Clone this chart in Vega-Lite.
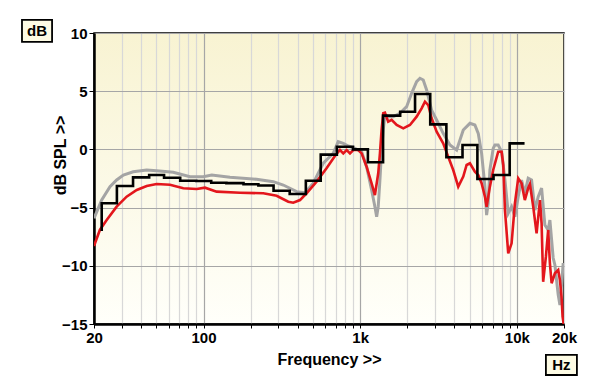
{
  "$schema": "https://vega.github.io/schema/vega-lite/v6.json",
  "width": 470,
  "height": 291,
  "autosize": {"type": "none"},
  "padding": {"left": 94, "top": 33, "right": 36, "bottom": 63},
  "background": "#ffffff",
  "config": {
    "font": "Liberation Sans",
    "view": {
      "stroke": "#000000",
      "strokeWidth": 1.5,
      "fill": {"gradient": "linear", "x1": 0, "y1": 0, "x2": 0, "y2": 1,
        "stops": [{"offset": 0, "color": "#f8f3d2"}, {"offset": 1, "color": "#fffffa"}]}
    }
  },
  "datasets": {
    "grey": [
      {"f": 20, "db": -5.92}, {"f": 22.4, "db": -4.35}, {"f": 25.3, "db": -3.2}, {"f": 27.9, "db": -2.63},
      {"f": 30.8, "db": -2.2}, {"f": 35.6, "db": -1.92}, {"f": 43.4, "db": -1.77}, {"f": 50.2, "db": -1.83},
      {"f": 64.1, "db": -1.97}, {"f": 82, "db": -2.35}, {"f": 99.7, "db": -2.35}, {"f": 112.8, "db": -2.2},
      {"f": 147.6, "db": -2.4}, {"f": 218, "db": -2.57}, {"f": 279, "db": -2.77}, {"f": 323, "db": -3.06},
      {"f": 393, "db": -3.63}, {"f": 444, "db": -3.72}, {"f": 502, "db": -2.91}, {"f": 581, "db": -1.19},
      {"f": 673, "db": -0.34}, {"f": 724, "db": 0.66}, {"f": 780, "db": 0.52}, {"f": 840, "db": 0.29},
      {"f": 926, "db": 0.09}, {"f": 1022, "db": -0.2}, {"f": 1099, "db": -1.49}, {"f": 1183, "db": -3.49},
      {"f": 1242, "db": -4.92}, {"f": 1274, "db": -5.78}, {"f": 1304, "db": -4.92}, {"f": 1337, "db": -2.63},
      {"f": 1370, "db": -0.05}, {"f": 1404, "db": 1.67}, {"f": 1439, "db": 2.96}, {"f": 1510, "db": 2.81},
      {"f": 1626, "db": 2.81}, {"f": 1795, "db": 3.1}, {"f": 1979, "db": 3.67}, {"f": 2130, "db": 4.82},
      {"f": 2293, "db": 5.82}, {"f": 2407, "db": 6.11}, {"f": 2527, "db": 5.96}, {"f": 2656, "db": 5.1},
      {"f": 2858, "db": 3.38}, {"f": 3077, "db": 2.53}, {"f": 3388, "db": 1.38}, {"f": 3741, "db": 0.38},
      {"f": 4128, "db": -0.05}, {"f": 4550, "db": 1.67}, {"f": 5018, "db": 2.24}, {"f": 5398, "db": 2.1},
      {"f": 5670, "db": 1.38}, {"f": 5958, "db": -0.34}, {"f": 6256, "db": -3.2}, {"f": 6412, "db": -5.64},
      {"f": 6562, "db": -4.63}, {"f": 6730, "db": -1.77}, {"f": 7064, "db": 0.09}, {"f": 7244, "db": 0.38},
      {"f": 7604, "db": 0.38}, {"f": 7998, "db": -0.2}, {"f": 8396, "db": -2.63}, {"f": 8812, "db": -5.49},
      {"f": 9258, "db": -4.92}, {"f": 9720, "db": -5.78}, {"f": 10204, "db": -4.06}, {"f": 10718, "db": -2.63},
      {"f": 11246, "db": -3.77}, {"f": 11818, "db": -2.48}, {"f": 12418, "db": -2.63}, {"f": 13046, "db": -5.21},
      {"f": 13694, "db": -4.06}, {"f": 14388, "db": -3.32}, {"f": 15102, "db": -6.5}, {"f": 15850, "db": -6.92},
      {"f": 16256, "db": -6.07}, {"f": 17062, "db": -9.33}, {"f": 17498, "db": -9.93}, {"f": 18368, "db": -12.5},
      {"f": 18838, "db": -13.37}, {"f": 19288, "db": -11.65}, {"f": 19772, "db": -9.76}
    ],
    "red": [
      {"f": 20, "db": -8.3}, {"f": 21.8, "db": -6.92}, {"f": 24.1, "db": -6.07}, {"f": 27.9, "db": -4.92},
      {"f": 32.3, "db": -4.06}, {"f": 37.5, "db": -3.49}, {"f": 43.4, "db": -3.14}, {"f": 50.2, "db": -2.97},
      {"f": 61.1, "db": -3.03}, {"f": 74.3, "db": -3.34}, {"f": 90.5, "db": -3.4}, {"f": 102.2, "db": -3.29},
      {"f": 121.3, "db": -3.63}, {"f": 171, "db": -3.72}, {"f": 240.6, "db": -3.77}, {"f": 293, "db": -3.98},
      {"f": 347.6, "db": -4.49}, {"f": 374, "db": -4.58}, {"f": 413, "db": -4.35}, {"f": 455, "db": -3.77},
      {"f": 527, "db": -2.77}, {"f": 610, "db": -1.62}, {"f": 690, "db": -0.57}, {"f": 743, "db": -0.05},
      {"f": 780, "db": -0.34}, {"f": 820, "db": -0.05}, {"f": 861, "db": -0.34}, {"f": 904, "db": -0.05},
      {"f": 972, "db": -0.05}, {"f": 1022, "db": -0.34}, {"f": 1099, "db": -1.49}, {"f": 1183, "db": -2.91},
      {"f": 1242, "db": -3.92}, {"f": 1304, "db": -2.05}, {"f": 1337, "db": -0.34}, {"f": 1370, "db": 1.67},
      {"f": 1404, "db": 3.1}, {"f": 1439, "db": 3.15}, {"f": 1510, "db": 2.38}, {"f": 1588, "db": 2.53},
      {"f": 1710, "db": 2.1}, {"f": 1884, "db": 1.81}, {"f": 2078, "db": 2.1}, {"f": 2293, "db": 2.81},
      {"f": 2468, "db": 3.53}, {"f": 2591, "db": 4.1}, {"f": 2719, "db": 3.81}, {"f": 2858, "db": 2.67},
      {"f": 3077, "db": 1.52}, {"f": 3388, "db": 0.52}, {"f": 3648, "db": -0.63}, {"f": 3926, "db": -1.77},
      {"f": 4227, "db": -3.2}, {"f": 4550, "db": -2.34}, {"f": 4780, "db": -1.34}, {"f": 5018, "db": -1.19},
      {"f": 5398, "db": -1.92}, {"f": 5670, "db": -2.2}, {"f": 5958, "db": -2.91}, {"f": 6256, "db": -4.06},
      {"f": 6412, "db": -4.92}, {"f": 6730, "db": -3.2}, {"f": 7064, "db": -1.77}, {"f": 7604, "db": -0.2},
      {"f": 7998, "db": -0.2}, {"f": 8192, "db": -1.34}, {"f": 8396, "db": -5.21}, {"f": 8812, "db": -8.93},
      {"f": 9258, "db": -8.07}, {"f": 9720, "db": -4.63}, {"f": 10204, "db": -2.48}, {"f": 10718, "db": -2.91},
      {"f": 11246, "db": -4.35}, {"f": 11818, "db": -3.32}, {"f": 12118, "db": -2.97}, {"f": 12720, "db": -4.92},
      {"f": 13368, "db": -7.21}, {"f": 14044, "db": -4.35}, {"f": 14388, "db": -6.35}, {"f": 14724, "db": -11.37},
      {"f": 15328, "db": -9.22}, {"f": 15850, "db": -6.92}, {"f": 16256, "db": -9.79}, {"f": 16674, "db": -11.5},
      {"f": 17498, "db": -10.64}, {"f": 18368, "db": -10.36}, {"f": 18838, "db": -11.22}, {"f": 19288, "db": -12.65},
      {"f": 19590, "db": -14.37}, {"f": 19900, "db": -15}
    ],
    "black": [
      {"i": 0, "f": 22.4, "db": -7.0}, {"i": 1, "f": 22.4, "db": -4.63}, {"i": 2, "f": 28, "db": -3.14},
      {"i": 3, "f": 35.5, "db": -2.4}, {"i": 4, "f": 45, "db": -2.2}, {"i": 5, "f": 56, "db": -2.43},
      {"i": 6, "f": 71, "db": -2.69}, {"i": 7, "f": 90, "db": -2.72}, {"i": 8, "f": 112, "db": -2.86},
      {"i": 9, "f": 140, "db": -2.9}, {"i": 10, "f": 180, "db": -3.0}, {"i": 11, "f": 224, "db": -3.1},
      {"i": 12, "f": 280, "db": -3.55}, {"i": 13, "f": 355, "db": -3.83}, {"i": 14, "f": 450, "db": -2.69},
      {"i": 15, "f": 560, "db": -0.45}, {"i": 16, "f": 710, "db": 0.23}, {"i": 17, "f": 900, "db": 0.0},
      {"i": 18, "f": 1120, "db": -1.11}, {"i": 19, "f": 1400, "db": 2.9}, {"i": 20, "f": 1800, "db": 3.24},
      {"i": 21, "f": 2240, "db": 4.76}, {"i": 22, "f": 2800, "db": 2.15}, {"i": 23, "f": 3550, "db": -0.68},
      {"i": 24, "f": 4500, "db": 0.38}, {"i": 25, "f": 5600, "db": -2.54}, {"i": 26, "f": 7100, "db": -2.2},
      {"i": 27, "f": 9000, "db": 0.52}, {"i": 28, "f": 11200, "db": 0.52}
    ],
    "boxes": [
      {"f": 6.94, "f2": 10.8, "db": 11.12, "db2": 9.23, "fc": 8.65, "dbc": 10.17, "label": "dB"},
      {"f": 15330, "f2": 24180, "db": -17.66, "db2": -19.38, "fc": 19240, "dbc": -18.52, "label": "Hz"}
    ]
  },
  "layer": [
    {
      "data": {"name": "grey"},
      "mark": {"type": "line", "color": "#a4a4a4", "strokeWidth": 3, "clip": true},
      "encoding": {
        "x": {"field": "f", "type": "quantitative",
          "scale": {"type": "log", "domain": [20, 20000], "nice": false},
          "axis": {
            "title": "Frequency >>", "titleFontSize": 16, "titleFontWeight": "bold", "titleColor": "#000000", "titlePadding": 6,
            "values": [20, 30, 40, 50, 60, 70, 80, 90, 100, 200, 300, 400, 500, 600, 700, 800, 900, 1000, 2000, 3000, 4000, 5000, 6000, 7000, 8000, 9000, 10000, 20000],
            "labelExpr": "datum.value == 20 ? '20' : datum.value == 100 ? '100' : datum.value == 1000 ? '1k' : datum.value == 10000 ? '10k' : datum.value == 20000 ? '20k' : ''",
            "labelFontSize": 15, "labelFontWeight": "bold", "labelColor": "#000000", "labelOverlap": false, "labelFlush": false, "labelPadding": 2,
            "domainColor": "#000000", "domainWidth": 2.5,
            "tickColor": "#000000", "tickSize": 4, "tickWidth": 1,
            "grid": true,
            "gridColor": {"condition": {"test": "datum.value == 100 || datum.value == 1000 || datum.value == 10000", "value": "#a6a6a6"}, "value": "#d8d8d8"},
            "gridWidth": 1.2
          }
        },
        "y": {"field": "db", "type": "quantitative",
          "scale": {"domain": [-15, 10], "nice": false},
          "axis": {
            "title": "dB SPL >>", "titleFontSize": 16, "titleFontWeight": "bold", "titleColor": "#000000",
            "titleX": -34, "titleY": 122, "titleAngle": -90, "titleAlign": "center", "titleBaseline": "middle",
            "values": [-15, -10, -5, 0, 5, 10],
            "labelFontSize": 15, "labelFontWeight": "bold", "labelColor": "#000000", "labelPadding": 2, "labelFlush": false,
            "domainColor": "#000000", "domainWidth": 2.5,
            "tickColor": "#000000", "tickSize": 5, "tickWidth": 1,
            "grid": true, "gridColor": "#a6a6a6", "gridWidth": 1.2
          }
        }
      }
    },
    {
      "data": {"name": "red"},
      "mark": {"type": "line", "color": "#e3161c", "strokeWidth": 2.6, "clip": true},
      "encoding": {
        "x": {"field": "f", "type": "quantitative"},
        "y": {"field": "db", "type": "quantitative"}
      }
    },
    {
      "data": {"name": "black"},
      "mark": {"type": "line", "color": "#000000", "strokeWidth": 2.6, "interpolate": "step-after", "clip": true},
      "encoding": {
        "x": {"field": "f", "type": "quantitative"},
        "y": {"field": "db", "type": "quantitative"},
        "order": {"field": "i", "type": "quantitative"}
      }
    },
    {
      "data": {"name": "boxes"},
      "mark": {"type": "rect", "fill": "#fdfbe4", "stroke": "#000000", "strokeWidth": 1.8, "clip": false},
      "encoding": {
        "x": {"field": "f", "type": "quantitative"},
        "x2": {"field": "f2"},
        "y": {"field": "db", "type": "quantitative"},
        "y2": {"field": "db2"}
      }
    },
    {
      "data": {"name": "boxes"},
      "mark": {"type": "text", "fontSize": 15, "fontWeight": "bold", "color": "#000000", "align": "center", "baseline": "middle", "clip": false},
      "encoding": {
        "x": {"field": "fc", "type": "quantitative"},
        "y": {"field": "dbc", "type": "quantitative"},
        "text": {"field": "label"}
      }
    }
  ]
}
